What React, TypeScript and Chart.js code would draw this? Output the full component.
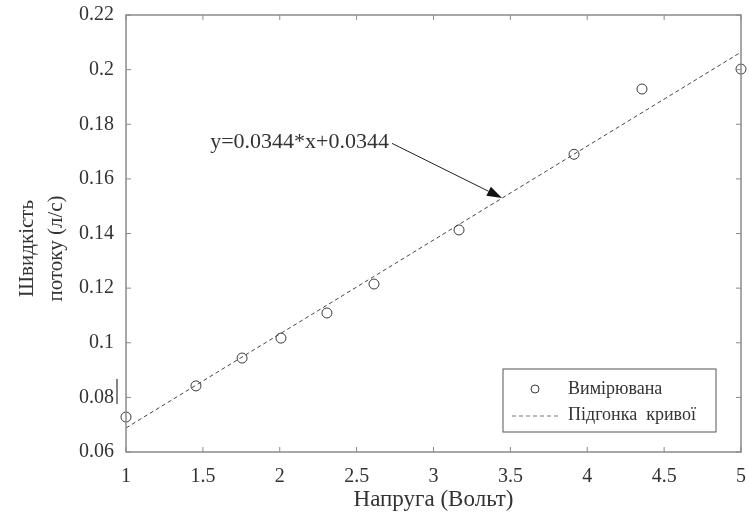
import React, { useEffect, useRef } from 'react';
import { Chart, registerables } from 'chart.js';

Chart.register(...registerables);

// ---- data ----
const voltage = [1, 1.455, 1.755, 2.008, 2.307, 2.613, 3.166, 3.914, 4.356, 5];
const flowRate = [0.0728, 0.0842, 0.0944, 0.1017, 0.1109, 0.1215, 0.1413, 0.169, 0.1929, 0.2002];
const fitX = [1, 5];
const fitY = [0.0688, 0.2064];
const xTickLabels = ['1', '1.5', '2', '2.5', '3', '3.5', '4', '4.5', '5'];
const yTickLabels = ['0.06', '0.08', '0.1', '0.12', '0.14', '0.16', '0.18', '0.2', '0.22'];
const seriesLabels = ['Вимірювана', 'Підгонка  кривої'];
const xTitle = 'Напруга (Вольт)';
const yTitle = ['Швидкість', 'потоку (л/с)'];
const annotationText = 'y=0.0344*x+0.0344';
const arrowFrom = { x: 2.73, y: 0.173 };
const arrowTo = { x: 3.446, y: 0.153 };

const FONT = '"Liberation Serif", "Times New Roman", serif';
const TEXT = '#333333';
const AXIS = '#8a8a8a';

const decorPlugin = {
  id: 'decor',
  afterDraw(chart: any) {
    const { ctx, chartArea: ca, scales } = chart;
    const xs = scales.x;
    const ys = scales.y;
    ctx.save();
    // frame
    ctx.strokeStyle = AXIS;
    ctx.lineWidth = 1.5;
    ctx.strokeRect(ca.left, ca.top, ca.right - ca.left, ca.bottom - ca.top);
    // inward ticks on all sides
    ctx.lineWidth = 1;
    ctx.beginPath();
    xs.ticks.forEach((t: any) => {
      const px = xs.getPixelForValue(t.value);
      ctx.moveTo(px, ca.bottom);
      ctx.lineTo(px, ca.bottom - 5);
      ctx.moveTo(px, ca.top);
      ctx.lineTo(px, ca.top + 5);
    });
    ys.ticks.forEach((t: any) => {
      const py = ys.getPixelForValue(t.value);
      ctx.moveTo(ca.left, py);
      ctx.lineTo(ca.left + 5, py);
      ctx.moveTo(ca.right, py);
      ctx.lineTo(ca.right - 5, py);
    });
    ctx.stroke();

    // stray mark near 0.08 label
    ctx.strokeStyle = '#444';
    ctx.lineWidth = 1.3;
    ctx.beginPath();
    ctx.moveTo(ca.left - 9, ys.getPixelForValue(0.0867));
    ctx.lineTo(ca.left - 9, ys.getPixelForValue(0.0776));
    ctx.stroke();

    // y-axis title (two lines, rotated)
    ctx.save();
    ctx.font = `21px ${FONT}`;
    ctx.fillStyle = TEXT;
    ctx.textAlign = 'center';
    ctx.textBaseline = 'alphabetic';
    const cy = (ca.top + ca.bottom) / 2 + 15;
    [33, 62].forEach((bx, i) => {
      ctx.save();
      ctx.translate(bx, cy);
      ctx.rotate(-Math.PI / 2);
      ctx.fillText(yTitle[i], 0, 0);
      ctx.restore();
    });
    ctx.restore();

    // annotation arrow
    const x0 = xs.getPixelForValue(arrowFrom.x);
    const y0 = ys.getPixelForValue(arrowFrom.y);
    const x1 = xs.getPixelForValue(arrowTo.x);
    const y1 = ys.getPixelForValue(arrowTo.y);
    const ang = Math.atan2(y1 - y0, x1 - x0);
    const headLen = 15;
    const headW = 5;
    ctx.strokeStyle = '#222';
    ctx.fillStyle = '#111';
    ctx.lineWidth = 1;
    ctx.beginPath();
    ctx.moveTo(x0, y0);
    ctx.lineTo(x1 - headLen * Math.cos(ang), y1 - headLen * Math.sin(ang));
    ctx.stroke();
    ctx.beginPath();
    ctx.moveTo(x1, y1);
    ctx.lineTo(
      x1 - headLen * Math.cos(ang) + headW * Math.sin(ang),
      y1 - headLen * Math.sin(ang) - headW * Math.cos(ang)
    );
    ctx.lineTo(
      x1 - headLen * Math.cos(ang) - headW * Math.sin(ang),
      y1 - headLen * Math.sin(ang) + headW * Math.cos(ang)
    );
    ctx.closePath();
    ctx.fill();
    ctx.font = `22px ${FONT}`;
    ctx.fillStyle = TEXT;
    ctx.textAlign = 'right';
    ctx.textBaseline = 'middle';
    ctx.fillText(annotationText, x0 - 3, y0 - 1);

    // legend
    const lw = 213;
    const lh = 63;
    const lx = ca.right - 25 - lw;
    const ly = ca.bottom - 20 - lh;
    ctx.fillStyle = '#ffffff';
    ctx.fillRect(lx, ly, lw, lh);
    ctx.strokeStyle = '#555';
    ctx.lineWidth = 1;
    ctx.strokeRect(lx, ly, lw, lh);
    const ds0 = chart.data.datasets[0];
    const ds1 = chart.data.datasets[1];
    ctx.strokeStyle = ds0.borderColor;
    ctx.lineWidth = 1;
    ctx.beginPath();
    ctx.arc(lx + 32, ly + 20, 4, 0, Math.PI * 2);
    ctx.stroke();
    ctx.strokeStyle = '#777';
    ctx.setLineDash(ds1.borderDash);
    ctx.beginPath();
    ctx.moveTo(lx + 9, ly + 47);
    ctx.lineTo(lx + 55, ly + 47);
    ctx.stroke();
    ctx.setLineDash([]);
    ctx.font = `18px ${FONT}`;
    ctx.fillStyle = TEXT;
    ctx.textAlign = 'left';
    ctx.textBaseline = 'middle';
    ctx.fillText(ds0.label, lx + 65, ly + 20);
    ctx.fillText(ds1.label, lx + 65, ly + 46);
    ctx.restore();
  },
};

export default function App() {
  const ref = useRef<HTMLCanvasElement>(null);
  useEffect(() => {
    if (!ref.current) return;
    const chart = new Chart(ref.current, {
      type: 'scatter',
      data: {
        datasets: [
          {
            label: seriesLabels[0],
            data: voltage.map((x, i) => ({ x, y: flowRate[i] })),
            showLine: false,
            pointStyle: 'circle',
            pointRadius: 5,
            pointBorderWidth: 1,
            borderColor: '#3a3a3a',
            backgroundColor: 'rgba(0,0,0,0)',
            clip: false as any,
            order: 1,
          },
          {
            label: seriesLabels[1],
            data: fitX.map((x, i) => ({ x, y: fitY[i] })),
            showLine: true,
            pointRadius: 0,
            borderColor: '#444444',
            borderWidth: 1,
            borderDash: [4, 3],
            backgroundColor: 'rgba(0,0,0,0)',
            order: 2,
          },
        ],
      },
      options: {
        responsive: false,
        animation: false,
        layout: { padding: { top: 15, right: 8, left: 0, bottom: 0 } },
        plugins: { legend: { display: false }, tooltip: { enabled: false } },
        scales: {
          x: {
            type: 'linear',
            min: 1,
            max: 5,
            afterFit: (s: any) => {
              s.height = 70;
              s.paddingLeft = 0;
              s.paddingRight = 0;
            },
            ticks: {
              stepSize: 0.5,
              color: TEXT,
              font: { family: FONT, size: 20 },
              padding: 13,
              callback: (v: any) => xTickLabels[Math.round((Number(v) - 1) / 0.5)] ?? '',
            },
            grid: { display: false, drawTicks: false },
            border: { display: false },
            title: {
              display: true,
              text: xTitle,
              color: TEXT,
              font: { family: FONT, size: 23 },
              padding: { top: 0, bottom: 8 },
            },
          },
          y: {
            type: 'linear',
            min: 0.06,
            max: 0.22,
            afterFit: (s: any) => {
              s.width = 126;
              s.paddingTop = 0;
              s.paddingBottom = 0;
            },
            ticks: {
              stepSize: 0.02,
              color: TEXT,
              font: { family: FONT, size: 20 },
              padding: 12,
              callback: (v: any) => yTickLabels[Math.round((Number(v) - 0.06) / 0.02)] ?? '',
            },
            grid: { display: false, drawTicks: false },
            border: { display: false },
            title: { display: false },
          },
        },
      },
      plugins: [decorPlugin],
    });
    return () => chart.destroy();
  }, []);
  return (
    <div style={{ position: 'absolute', left: 0, top: 0, width: 749, height: 522, background: '#fff' }}>
      <canvas ref={ref} width={749} height={522} style={{ width: 749, height: 522, display: 'block' }} />
    </div>
  );
}
